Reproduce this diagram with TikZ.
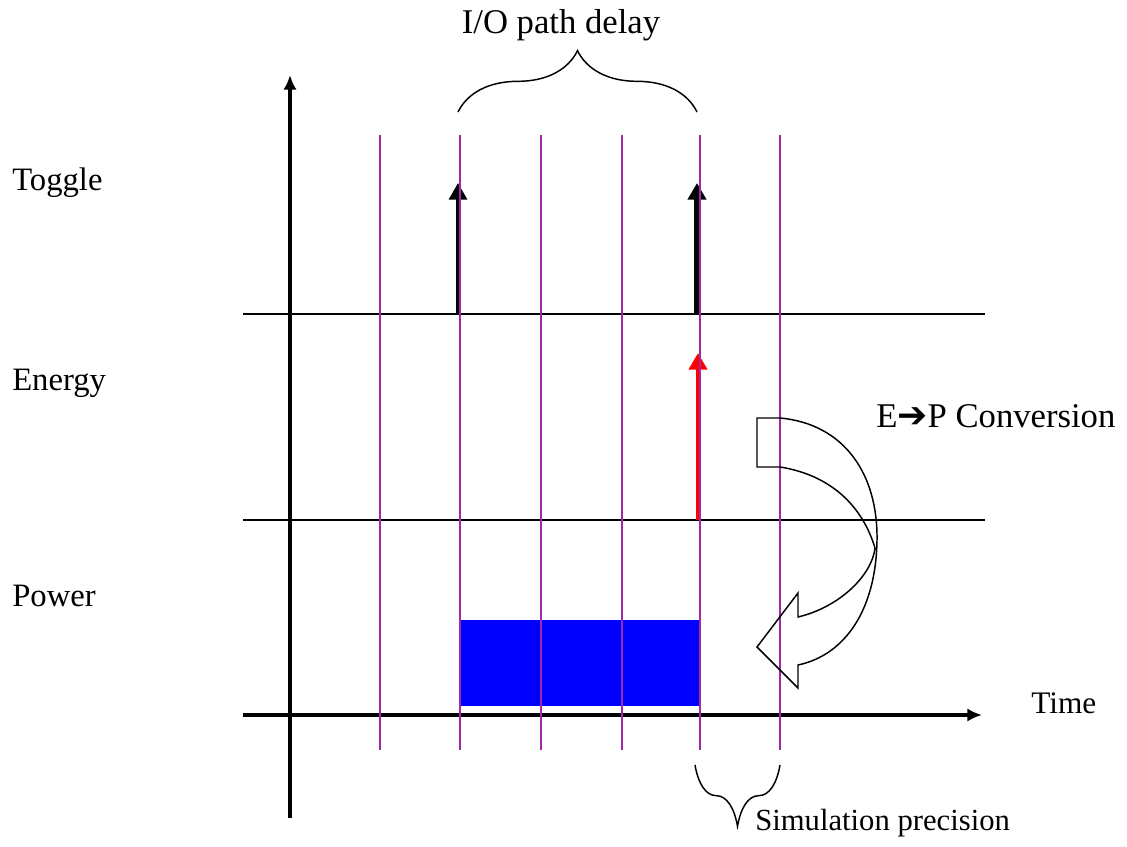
\documentclass[tikz,border=0pt]{standalone}
\usepackage{fontspec}
\setmainfont{Liberation Serif}
\newfontfamily\arrowfont{DejaVu Sans}
\usetikzlibrary{arrows.meta,decorations.pathreplacing}
\definecolor{gridpurple}{RGB}{160,40,170}
\definecolor{powerblue}{RGB}{0,0,255}
\definecolor{energyred}{RGB}{255,0,0}
\begin{document}
\begin{tikzpicture}[x=0.75pt,y=-0.75pt,
  lbl/.style={font=\fontsize{24.5}{28}\selectfont, inner sep=0pt},
  thinline/.style={line width=1.1pt},
  axis/.style={line width=2.6pt, -{Latex[length=11pt,width=10pt]}},
  gridline/.style={gridpurple, line width=1.3pt},
  spike/.style={-{Triangle[length=12.5pt,width=13.5pt]}},
  bracestyle/.style={decorate, decoration={brace, amplitude=46pt}, line width=1.1pt},
]
\useasboundingbox (0,0) rectangle (1127,846);

% coordinates
\coordinate (vbot) at (290,818);
\coordinate (vtop) at (290,75);
\coordinate (hleft) at (243,715);
\coordinate (hright) at (982,715);
\coordinate (ta) at (243,314);
\coordinate (tb) at (985,314);
\coordinate (ea) at (243,520);
\coordinate (eb) at (985,520);

% power block
\fill[powerblue] (460,620) rectangle (701,706);

% separating lines
\draw[thinline] (ta) -- (tb);
\draw[thinline] (ea) -- (eb);

% axes
\draw[axis] (vbot) -- (vtop);
\draw[axis] (hleft) -- (hright);

% spikes
\coordinate (s1b) at (458,314);
\coordinate (s1t) at (458,183);
\coordinate (s2b) at (697,314);
\coordinate (s2t) at (697,183);
\coordinate (s3b) at (698,520);
\coordinate (s3t) at (698,353);
\draw[spike, line width=2.4pt] (s1b) -- (s1t);
\draw[spike, line width=3.8pt] (s2b) -- (s2t);
\draw[spike, energyred, line width=3.2pt] (s3b) -- (s3t);

% purple grid
\foreach \gx in {380,460,541,622,700,780}
  \draw[gridline] (\gx,135) -- (\gx,750);

% curved conversion arrow
\draw[line width=1.1pt, line join=miter]
  (757,418) -- (780,418)
  .. controls (845,424) and (878,475) .. (877,540)
  .. controls (876,610) and (845,655) .. (798,665)
  -- (798,688) -- (757,647) -- (798,593) -- (798,617)
  .. controls (840,607) and (872,575) .. (875,548)
  .. controls (862,505) and (830,475) .. (780,467)
  -- (757,467) -- cycle;

% braces
\coordinate (b1a) at (458,112);
\coordinate (b1b) at (697,112);
\draw[bracestyle] (b1a) -- (b1b);
\coordinate (b2a) at (780,765);
\coordinate (b2b) at (695,765);
\draw[bracestyle] (b2a) -- (b2b);

% labels
\node[lbl, anchor=base west] (toggle) at (12,190) {Toggle};
\node[lbl, anchor=base west] (energy) at (12,390) {Energy};
\node[lbl, anchor=base west] (power) at (12,606) {Power};
\node[lbl, anchor=base west, font=\fontsize{23.5}{28}\selectfont] (time) at (1031,713) {Time};
\node[lbl, anchor=base, font=\fontsize{26}{30}\selectfont] (iodelay) at (561,33) {I/O path delay};
\node[lbl, anchor=base west, font=\fontsize{26}{30}\selectfont] (conv) at (876,427) {E{\arrowfont\fontsize{27}{30}\selectfont ➔}P Conversion};
\node[lbl, anchor=base west, font=\fontsize{23}{28}\selectfont] (simprec) at (755,830) {Simulation precision};
\end{tikzpicture}
\end{document}
